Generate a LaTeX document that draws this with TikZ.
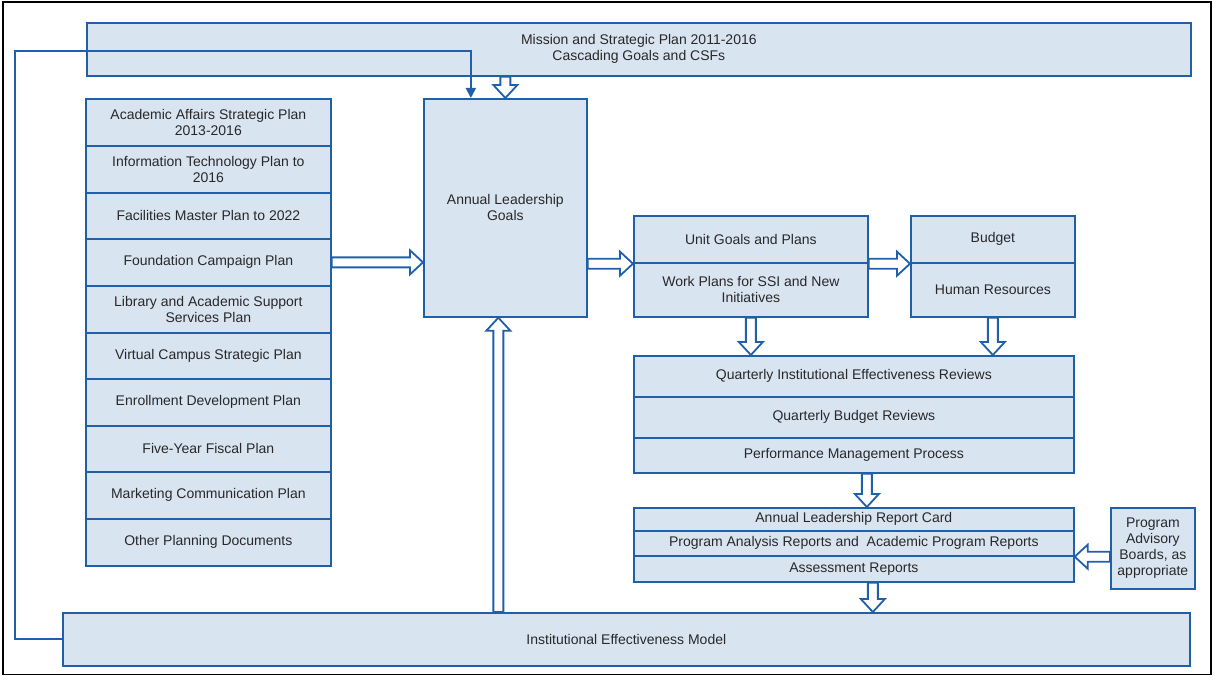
\documentclass[tikz,border=0pt]{standalone}
\usepackage{fontspec}
\setmainfont{Liberation Sans}
\usetikzlibrary{calc,arrows.meta}
\definecolor{bl}{RGB}{32,96,170}
\definecolor{bx}{RGB}{217,228,241}
\definecolor{tx}{RGB}{40,40,40}
\begin{document}
\begin{tikzpicture}[x=1pt,y=-1pt,
  box/.style={draw=bl, fill=bx, line width=1.7pt, anchor=north west, inner sep=0pt,
    align=center, text=tx, font=\fontsize{14}{16}\selectfont},
  hollow/.style={draw=bl, fill=white, line width=1.8pt, line join=miter,
    to path={([shift={(#1+90:5pt)}]\tikztostart)
      -- ([shift={(#1+180:13pt)},shift={(#1+90:5pt)}]\tikztotarget)
      -- ([shift={(#1+180:13pt)},shift={(#1+90:12pt)}]\tikztotarget)
      -- (\tikztotarget)
      -- ([shift={(#1+180:13pt)},shift={(#1-90:12pt)}]\tikztotarget)
      -- ([shift={(#1+180:13pt)},shift={(#1-90:5pt)}]\tikztotarget)
      -- ([shift={(#1-90:5pt)}]\tikztostart) -- cycle}},
  fb/.style={draw=bl, line width=1.8pt, -{Triangle[length=10pt,width=10pt]}}]
\useasboundingbox (0,0) rectangle (1214,676);
\fill[white] (0,0) rectangle (1214,676);
\draw[black, line width=1.3pt] (3,2) rectangle (1211,674.5);

% top box
\node[box, minimum width=1104pt, minimum height=53pt] (mission) at (86,22)
  {Mission and Strategic Plan 2011-2016\\Cascading Goals and CSFs};

% left stack
\node[box, minimum width=245pt, minimum height=47pt] (s1) at (85,98) {Academic Affairs Strategic Plan\\2013-2016};
\node[box, minimum width=245pt, minimum height=47pt] (s2) at (85,145) {Information Technology Plan to\\2016};
\node[box, minimum width=245pt, minimum height=46pt] (s3) at (85,192) {Facilities Master Plan to 2022};
\node[box, minimum width=245pt, minimum height=47pt] (s4) at (85,238) {Foundation Campaign Plan};
\node[box, minimum width=245pt, minimum height=47pt] (s5) at (85,285) {Library and Academic Support\\Services Plan};
\node[box, minimum width=245pt, minimum height=46pt] (s6) at (85,332) {Virtual Campus Strategic Plan};
\node[box, minimum width=245pt, minimum height=47pt] (s7) at (85,378) {Enrollment Development Plan};
\node[box, minimum width=245pt, minimum height=46pt] (s8) at (85,425) {Five-Year Fiscal Plan};
\node[box, minimum width=245pt, minimum height=47pt] (s9) at (85,471) {Marketing Communication Plan};
\node[box, minimum width=245pt, minimum height=47pt] (s10) at (85,518) {Other Planning Documents};

% annual leadership goals
\node[box, minimum width=163pt, minimum height=218pt] (annual) at (423,98) {Annual Leadership\\Goals};

% unit / work
\node[box, minimum width=234pt, minimum height=47pt] (unit) at (633,215) {Unit Goals and Plans};
\node[box, minimum width=234pt, minimum height=54pt] (work) at (633,262) {Work Plans for SSI and New\\Initiatives};

% budget / HR
\node[box, minimum width=164pt, minimum height=47pt] (budget) at (910,215) {Budget};
\node[box, minimum width=164pt, minimum height=54pt] (hr) at (910,262) {Human Resources};

% quarterly
\node[box, minimum width=440pt, minimum height=41pt] (qie) at (633,355) {Quarterly Institutional Effectiveness Reviews};
\node[box, minimum width=440pt, minimum height=41pt] (qbr) at (633,396) {Quarterly Budget Reviews};
\node[box, minimum width=440pt, minimum height=35pt] (pmp) at (633,437) {Performance Management Process};

% reports
\node[box, minimum width=440pt, minimum height=23pt] (alrc) at (633,507) {Annual Leadership Report Card};
\node[box, minimum width=440pt, minimum height=25pt] (par) at (633,530) {Program Analysis Reports and\ \ Academic Program Reports};
\node[box, minimum width=440pt, minimum height=26pt] (ar) at (633,555) {Assessment Reports};

% advisory
\node[box, minimum width=84pt, minimum height=81pt] (adv) at (1110,507) {Program\\Advisory\\Boards, as\\appropriate};

% institutional
\node[box, minimum width=1127pt, minimum height=53pt] (inst) at (62,612) {Institutional Effectiveness Model};

% arrow end coordinates
\coordinate (a1s) at (annual.north |- mission.south);
\coordinate (a7s) at ([xshift=13pt]pmp.south);
\coordinate (a7t) at (a7s |- alrc.north);
\coordinate (a9s) at ([xshift=19pt]ar.south);
\coordinate (a9t) at (a9s |- inst.north);
\coordinate (a10s) at ([xshift=-7pt]inst.north -| annual.south);
\coordinate (a10t) at (a10s |- annual.south);
\coordinate (fbc) at (15,51);
\coordinate (fbt) at ([xshift=-34.5pt]annual.north);

% hollow arrows
\draw[hollow=-90] (a1s) to (annual.north);
\draw[hollow=0] (s4.east) to (annual.west |- s4.east);
\draw[hollow=0] (annual.east |- unit.south) to (unit.south west);
\draw[hollow=0] (unit.south east) to (budget.south west);
\draw[hollow=-90] (work.south) to (work.south |- qie.north);
\draw[hollow=-90] (hr.south) to (hr.south |- qie.north);
\draw[hollow=-90] (a7s) to (a7t);
\draw[hollow=180] (adv.west |- par.south) to (par.south east);
\draw[hollow=-90] (a9s) to (a9t);
\draw[hollow=90] (a10s) to (a10t);

% feedback line
\draw[fb] (inst.west) -| (fbc) -| (fbt);
\end{tikzpicture}
\end{document}
